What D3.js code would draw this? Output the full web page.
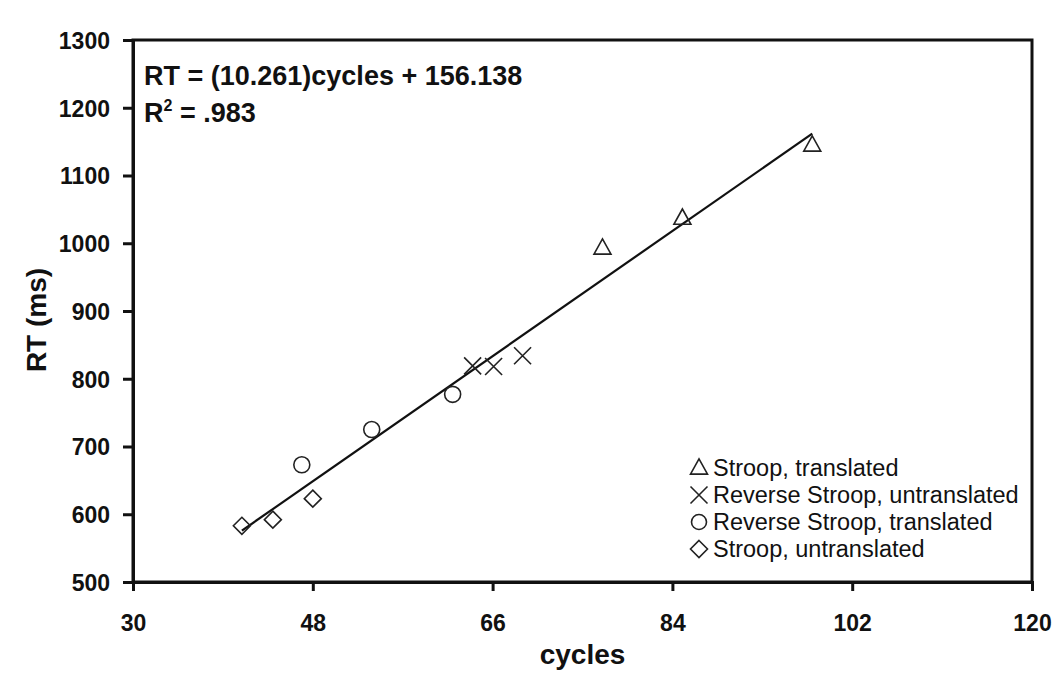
<!DOCTYPE html>
<html>
<head>
<meta charset="utf-8">
<script src="https://cdn.jsdelivr.net/npm/d3@7"></script>
<style>
  html, body { margin: 0; padding: 0; background: #fff; }
  svg { display: block; font-family: "Liberation Sans", Arial, sans-serif; }
</style>
</head>
<body>
<svg id="chart" width="1056" height="673"></svg>
<script>
// RT versus cycles for the four Stroop conditions
const seriesNames = [
  "Stroop, translated",
  "Reverse Stroop, untranslated",
  "Reverse Stroop, translated",
  "Stroop, untranslated"
];
const seriesSymbols = ["triangle", "cross", "circle", "diamond"];

const stroopTranslated = [[77.0, 993], [85.0, 1037], [98.0, 1145]];
const reverseUntranslated = [[64.0, 819], [66.1, 818], [69.0, 834]];
const reverseTranslated = [[46.9, 673], [53.9, 725], [62.0, 777]];
const stroopUntranslated = [[40.9, 583], [44.0, 592], [48.0, 623]];

const seriesValues = [stroopTranslated, reverseUntranslated, reverseTranslated, stroopUntranslated];

// Fitted line: RT = slope * cycles + intercept
const slope = 10.261;
const intercept = 156.138;
const fitRange = [40.9, 98.0];

const xTicks = [30, 48, 66, 84, 102, 120];
const yTicks = [500, 600, 700, 800, 900, 1000, 1100, 1200, 1300];

const svg = d3.select("#chart");
const margin = { left: 133, right: 24, top: 40, bottom: 91 };
const W = 1056, H = 673;

const x = d3.scaleLinear().domain([30, 120]).range([margin.left, W - margin.right]);
const y = d3.scaleLinear().domain([500, 1300]).range([H - margin.bottom, margin.top]);

// Frame around the plot area
svg.append("rect")
  .attr("x", x(30)).attr("y", y(1300))
  .attr("width", x(120) - x(30)).attr("height", y(500) - y(1300))
  .attr("fill", "none").attr("stroke", "#111").attr("stroke-width", 3);

// Axes
const xAxis = svg.append("g")
  .attr("transform", `translate(0,${y(500)})`)
  .call(d3.axisBottom(x).tickValues(xTicks).tickSize(9).tickPadding(24).tickFormat(d3.format("d")));
const yAxis = svg.append("g")
  .attr("transform", `translate(${x(30)},0)`)
  .call(d3.axisLeft(y).tickValues(yTicks).tickSize(10).tickPadding(13).tickFormat(d3.format("d")));

[xAxis, yAxis].forEach(g => {
  g.select(".domain").attr("stroke", "#111").attr("stroke-width", 3);
  g.selectAll(".tick line").attr("stroke", "#111").attr("stroke-width", 3);
  g.selectAll(".tick text")
    .attr("fill", "#111")
    .style("font-family", "'Liberation Sans', Arial, sans-serif")
    .style("font-size", "23px")
    .style("font-weight", "bold");
});
yAxis.selectAll(".tick text").attr("dy", "0.36em");

// Axis titles
svg.append("text")
  .attr("x", (x(30) + x(120)) / 2).attr("y", 664)
  .attr("text-anchor", "middle")
  .style("font-size", "28px").style("font-weight", "bold").attr("fill", "#111")
  .text("cycles");
svg.append("text")
  .attr("transform", "translate(46,320) rotate(-90)")
  .attr("text-anchor", "middle")
  .style("font-size", "28px").style("font-weight", "bold").attr("fill", "#111")
  .text("RT (ms)");

// Regression line
svg.append("line")
  .attr("x1", x(fitRange[0])).attr("y1", y(slope * fitRange[0] + intercept))
  .attr("x2", x(fitRange[1])).attr("y2", y(slope * fitRange[1] + intercept))
  .attr("stroke", "#111").attr("stroke-width", 2.2);

// Marker shapes
function symbolPath(kind, s) {
  const h = s / 2;
  switch (kind) {
    case "triangle": {
      const th = s * 0.9;
      return `M0,${-th * 0.6}L${h},${th * 0.4}L${-h},${th * 0.4}Z`;
    }
    case "cross":
      return `M${-h},${-h}L${h},${h}M${-h},${h}L${h},${-h}`;
    case "circle":
      return `M${h},0A${h},${h} 0 1,1 ${-h},0A${h},${h} 0 1,1 ${h},0Z`;
    case "diamond":
      return `M0,${-h}L${h},0L0,${h}L${-h},0Z`;
  }
}

seriesValues.forEach((vals, i) => {
  const kind = seriesSymbols[i];
  svg.append("g").selectAll("path")
    .data(vals)
    .join("path")
    .attr("transform", d => `translate(${x(d[0])},${y(d[1])})`)
    .attr("d", symbolPath(kind, kind === "circle" ? 16 : 17))
    .attr("fill", "none").attr("stroke", "#222").attr("stroke-width", 1.6);
});

// Equation annotation
const eq = svg.append("g").style("font-weight", "bold").attr("fill", "#111");
eq.append("text").attr("x", 144).attr("y", 85).style("font-size", "27px")
  .text("RT = (10.261)cycles + 156.138");
const r2 = eq.append("text").attr("x", 144).attr("y", 122).style("font-size", "27px");
r2.append("tspan").text("R");
r2.append("tspan").attr("dy", -11).style("font-size", "16px").text("2");
r2.append("tspan").attr("dy", 11).text(" = .983");

// Legend
const legend = svg.append("g").attr("transform", "translate(699,468)");
seriesNames.forEach((name, i) => {
  const row = legend.append("g").attr("transform", `translate(0,${i * 27})`);
  row.append("path")
    .attr("d", symbolPath(seriesSymbols[i], seriesSymbols[i] === "circle" ? 15 : 17))
    .attr("fill", "none").attr("stroke", "#222").attr("stroke-width", 1.6);
  row.append("text")
    .attr("x", 14).attr("dy", "0.36em")
    .style("font-size", "23.5px").attr("fill", "#111")
    .text(name);
});
</script>
</body>
</html>
